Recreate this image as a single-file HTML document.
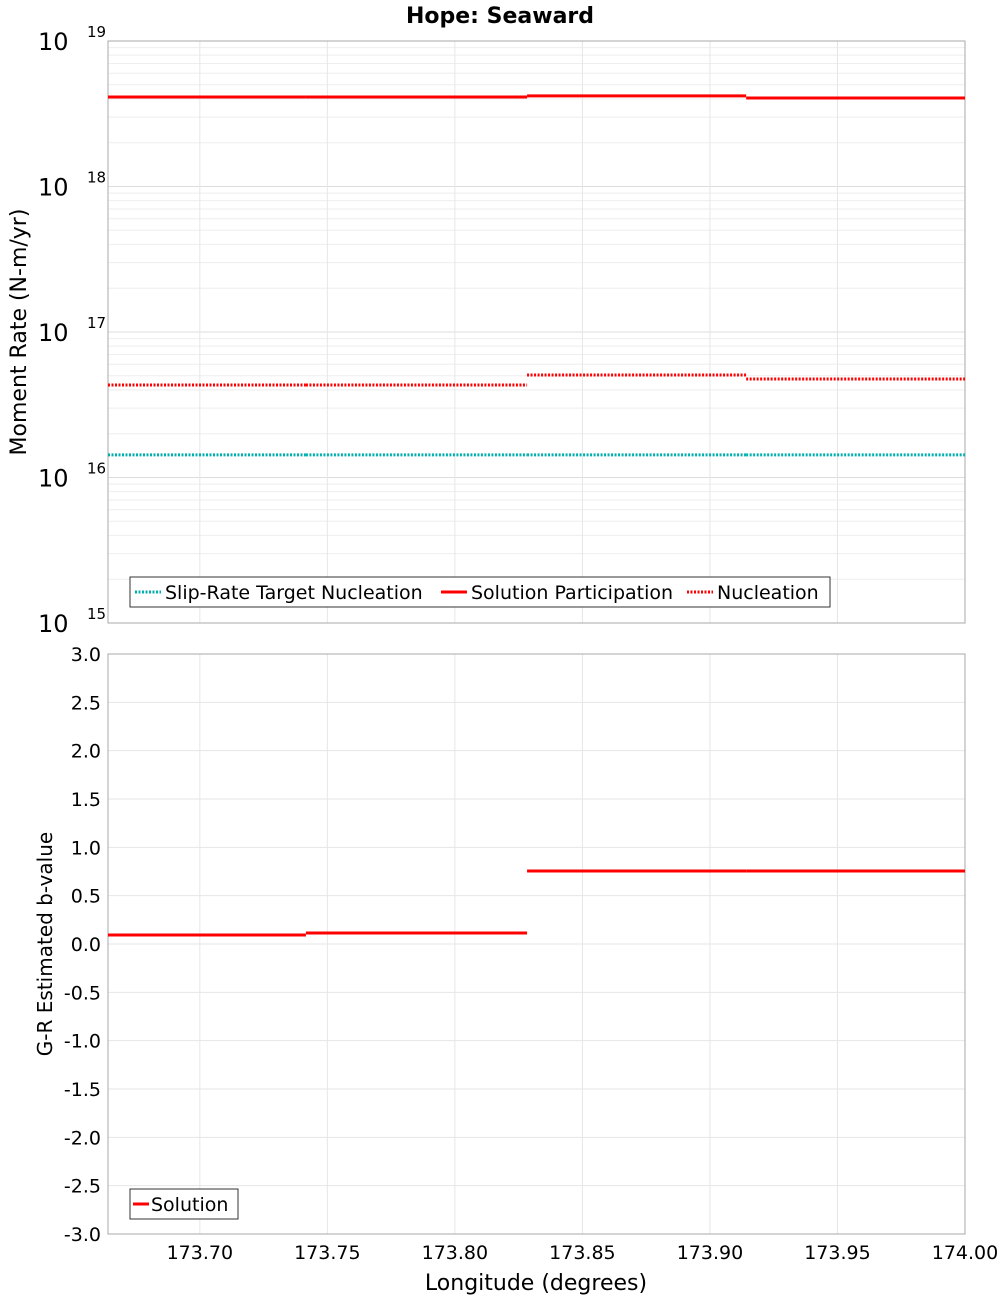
<!DOCTYPE html>
<html><head><meta charset="utf-8"><style>
body{margin:0;background:#fff;font-family:"DejaVu Sans","Liberation Sans",sans-serif;}
svg text{font-family:"DejaVu Sans","Liberation Sans",sans-serif;}
</style></head><body>
<svg id="chart" width="1000" height="1300" xmlns="http://www.w3.org/2000/svg">
<text x="500" y="23" text-anchor="middle" font-size="22" font-weight="bold">Hope: Seaward</text>
<g id="topg"></g><g id="botg"></g>
<text transform="translate(26,332) rotate(-90)" text-anchor="middle" font-size="22">Moment Rate (N-m/yr)</text>
<text transform="translate(52,944) rotate(-90)" text-anchor="middle" font-size="20">G-R Estimated b-value</text>
<text x="536" y="1290" text-anchor="middle" font-size="22">Longitude (degrees)</text>
</svg>
<script>
const segEdges=[173.664,173.7416,173.8283,173.9142,174.0];
const participation=[4.12e18,4.12e18,4.2e18,4.06e18];
const nucleation=[4.32e16,4.32e16,5.06e16,4.75e16];
const target=[1.43e16,1.43e16,1.43e16,1.43e16];
const bValues=[0.093,0.114,0.755,0.755];
const xTicks=[173.70,173.75,173.80,173.85,173.90,173.95,174.00];
const logDecades=[15,16,17,18,19];
const bTicks=[3.0,2.5,2.0,1.5,1.0,0.5,0.0,-0.5,-1.0,-1.5,-2.0,-2.5,-3.0];

const NS="http://www.w3.org/2000/svg";
const L=108,R=965;
const xs=v=>L+(v-173.664)/(174.0-173.664)*(R-L);
const T1=41,B1=623,T2=654,B2=1234;
const ylog=v=>B1-(Math.log10(v)-15)/4*(B1-T1);
const yb=v=>T2+(3-v)/6*(B2-T2);
function mk(p,tag,a){const e=document.createElementNS(NS,tag);for(const k in a)e.setAttribute(k,a[k]);p.appendChild(e);return e;}
const topG=document.getElementById('topg'),botG=document.getElementById('botg');

let g=mk(topG,'g',{});


for(let d=15;d<19;d++)for(let m=1;m<10;m++){const y=ylog(m*Math.pow(10,d));mk(g,'line',{x1:L,x2:R,y1:y,y2:y,stroke:m==1?'#ddd':'#eee','stroke-width':1});}
xTicks.forEach(t=>{mk(g,'line',{x1:xs(t),x2:xs(t),y1:T1,y2:B1,stroke:'#e6e6e6'});mk(g,'line',{x1:xs(t),x2:xs(t),y1:T2,y2:B2,stroke:'#e6e6e6'});});
bTicks.forEach(t=>mk(g,'line',{x1:L,x2:R,y1:yb(t),y2:yb(t),stroke:'#e6e6e6'}));
let f1=mk(topG,'rect',{x:L,y:T1,width:R-L,height:B1-T1,fill:'none',stroke:'#aaa'});


let f2=mk(botG,'rect',{x:L,y:T2,width:R-L,height:B2-T2,fill:'none',stroke:'#aaa'});



logDecades.forEach(d=>{const y=ylog(Math.pow(10,d));
 const t=mk(topG,'text',{x:38,y:y+9,'font-size':24});t.textContent='10';
 
 
 const s=mk(topG,'text',{x:87,y:y-4,'font-size':15});s.textContent=String(d);
 
 });
bTicks.forEach(v=>{const t=mk(botG,'text',{x:101,y:yb(v)+7,'font-size':19,'text-anchor':'end'});t.textContent=v.toFixed(1);
 
 });
xTicks.forEach(v=>{const t=mk(botG,'text',{x:xs(v),y:1259,'font-size':19,'text-anchor':'middle'});t.textContent=v.toFixed(2);
 
 });

function steps(p,arr,yf,color,dash,name){for(let i=0;i<arr.length;i++){const y=yf(arr[i]);
 const l=mk(p,'line',{x1:xs(segEdges[i]),x2:xs(segEdges[i+1]),y1:y,y2:y,stroke:color,'stroke-width':3});
 if(dash)l.setAttribute('stroke-dasharray','2,1.5');
 
 }}
steps(topG,target,ylog,'#00b0b0',true,'target-nucleation-segment');
steps(topG,nucleation,ylog,'#ff0000',true,'nucleation-segment');
steps(topG,participation,ylog,'#ff0000',false,'participation-segment');
steps(botG,bValues,yb,'#ff0000',false,'b-value-segment');

let lg=mk(topG,'g',{});


mk(lg,'rect',{x:130,y:577,width:700,height:30,fill:'#fff',stroke:'#333'});
const items=[[135,'#00b0b0',true,'Slip-Rate Target Nucleation'],[441,'#ff0000',false,'Solution Participation'],[687,'#ff0000',true,'Nucleation']];
items.forEach(it=>{const l=mk(lg,'line',{x1:it[0],x2:it[0]+26,y1:592,y2:592,stroke:it[1],'stroke-width':3});if(it[2])l.setAttribute('stroke-dasharray','2,1.5');
 const t=mk(lg,'text',{x:it[0]+30,y:599,'font-size':19});t.textContent=it[3];
 
 });
let lg2=mk(botG,'g',{});


mk(lg2,'rect',{x:130,y:1189,width:108,height:30,fill:'#fff',stroke:'#333'});
mk(lg2,'line',{x1:133,x2:149,y1:1204,y2:1204,stroke:'#ff0000','stroke-width':3});
const st=mk(lg2,'text',{x:151,y:1211,'font-size':19});st.textContent='Solution';


</script>
</body></html>
